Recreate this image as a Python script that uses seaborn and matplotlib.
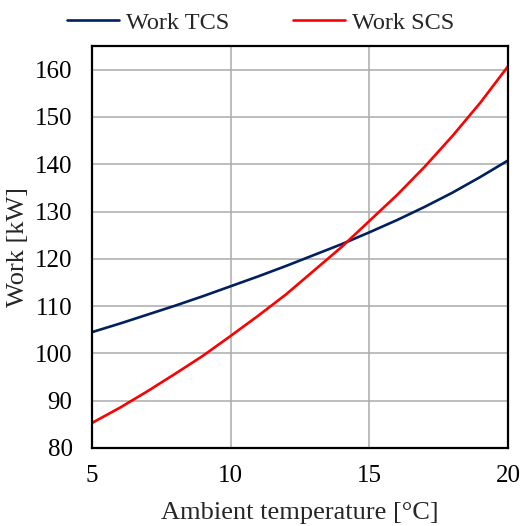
import matplotlib
matplotlib.use("Agg")
import matplotlib.pyplot as plt
import seaborn as sns
import pandas as pd

temps = [5, 6, 7, 8, 9, 10, 11, 12, 13, 14, 15, 16, 17, 18, 19, 20]
work_tcs = [104.5, 106.3, 108.2, 110.1, 112.1, 114.2, 116.3, 118.5, 120.8, 123.1, 125.6, 128.2, 131.0, 134.0, 137.3, 140.8]
work_scs = [85.3, 88.5, 92.0, 95.7, 99.5, 103.7, 108.0, 112.5, 117.5, 122.5, 128.0, 133.5, 139.5, 146.0, 153.0, 160.7]
series_names = ["Work TCS", "Work SCS"]
xticks = [5, 10, 15, 20]
yticks = [80, 90, 100, 110, 120, 130, 140, 150, 160]

df = pd.DataFrame({
    "temp": temps * 2,
    "work": work_tcs + work_scs,
    "series": [series_names[0]] * len(temps) + [series_names[1]] * len(temps),
})

sns.set_style("white")
plt.rcParams["font.family"] = ["Liberation Serif", "DejaVu Serif"]

fig = plt.figure(figsize=(5.21, 5.26), dpi=100)
ax = fig.add_axes([92/521, 1-448/526, (508-92)/521, (448-46)/526])
sns.lineplot(data=df, x="temp", y="work", hue="series",
             palette={"Work TCS": "#002060", "Work SCS": "#FF0000"},
             linewidth=1.9, ax=ax, legend=True)

ax.set_xlim(5, 20)
ax.set_ylim(80, 165)
ax.set_xticks(xticks)
ax.set_yticks(yticks)
ax.tick_params(axis="x", labelsize=18, length=0, pad=12, colors="black")
ax.tick_params(axis="y", labelsize=18, length=0, pad=14, colors="black")
ax.grid(True, color="#ababab", linewidth=1.1)
ax.set_axisbelow(True)
for s in ax.spines.values():
    s.set_color("black")
    s.set_linewidth(1.6)
ax.set_xlabel("Ambient temperature [°C]", fontsize=19, labelpad=11)
ax.set_ylabel("Work [kW]", fontsize=19, labelpad=4)

handles, labels = ax.get_legend_handles_labels()
ax.get_legend().remove()
fig.legend(handles, labels, loc="lower center",
           bbox_to_anchor=(0.5, 1 - 46/526), bbox_transform=fig.transFigure,
           ncol=2, frameon=False, fontsize=17.5, handlelength=2.15,
           handletextpad=0.3, columnspacing=2.6, borderaxespad=0.1)

fig.savefig("out.png", dpi=100)
